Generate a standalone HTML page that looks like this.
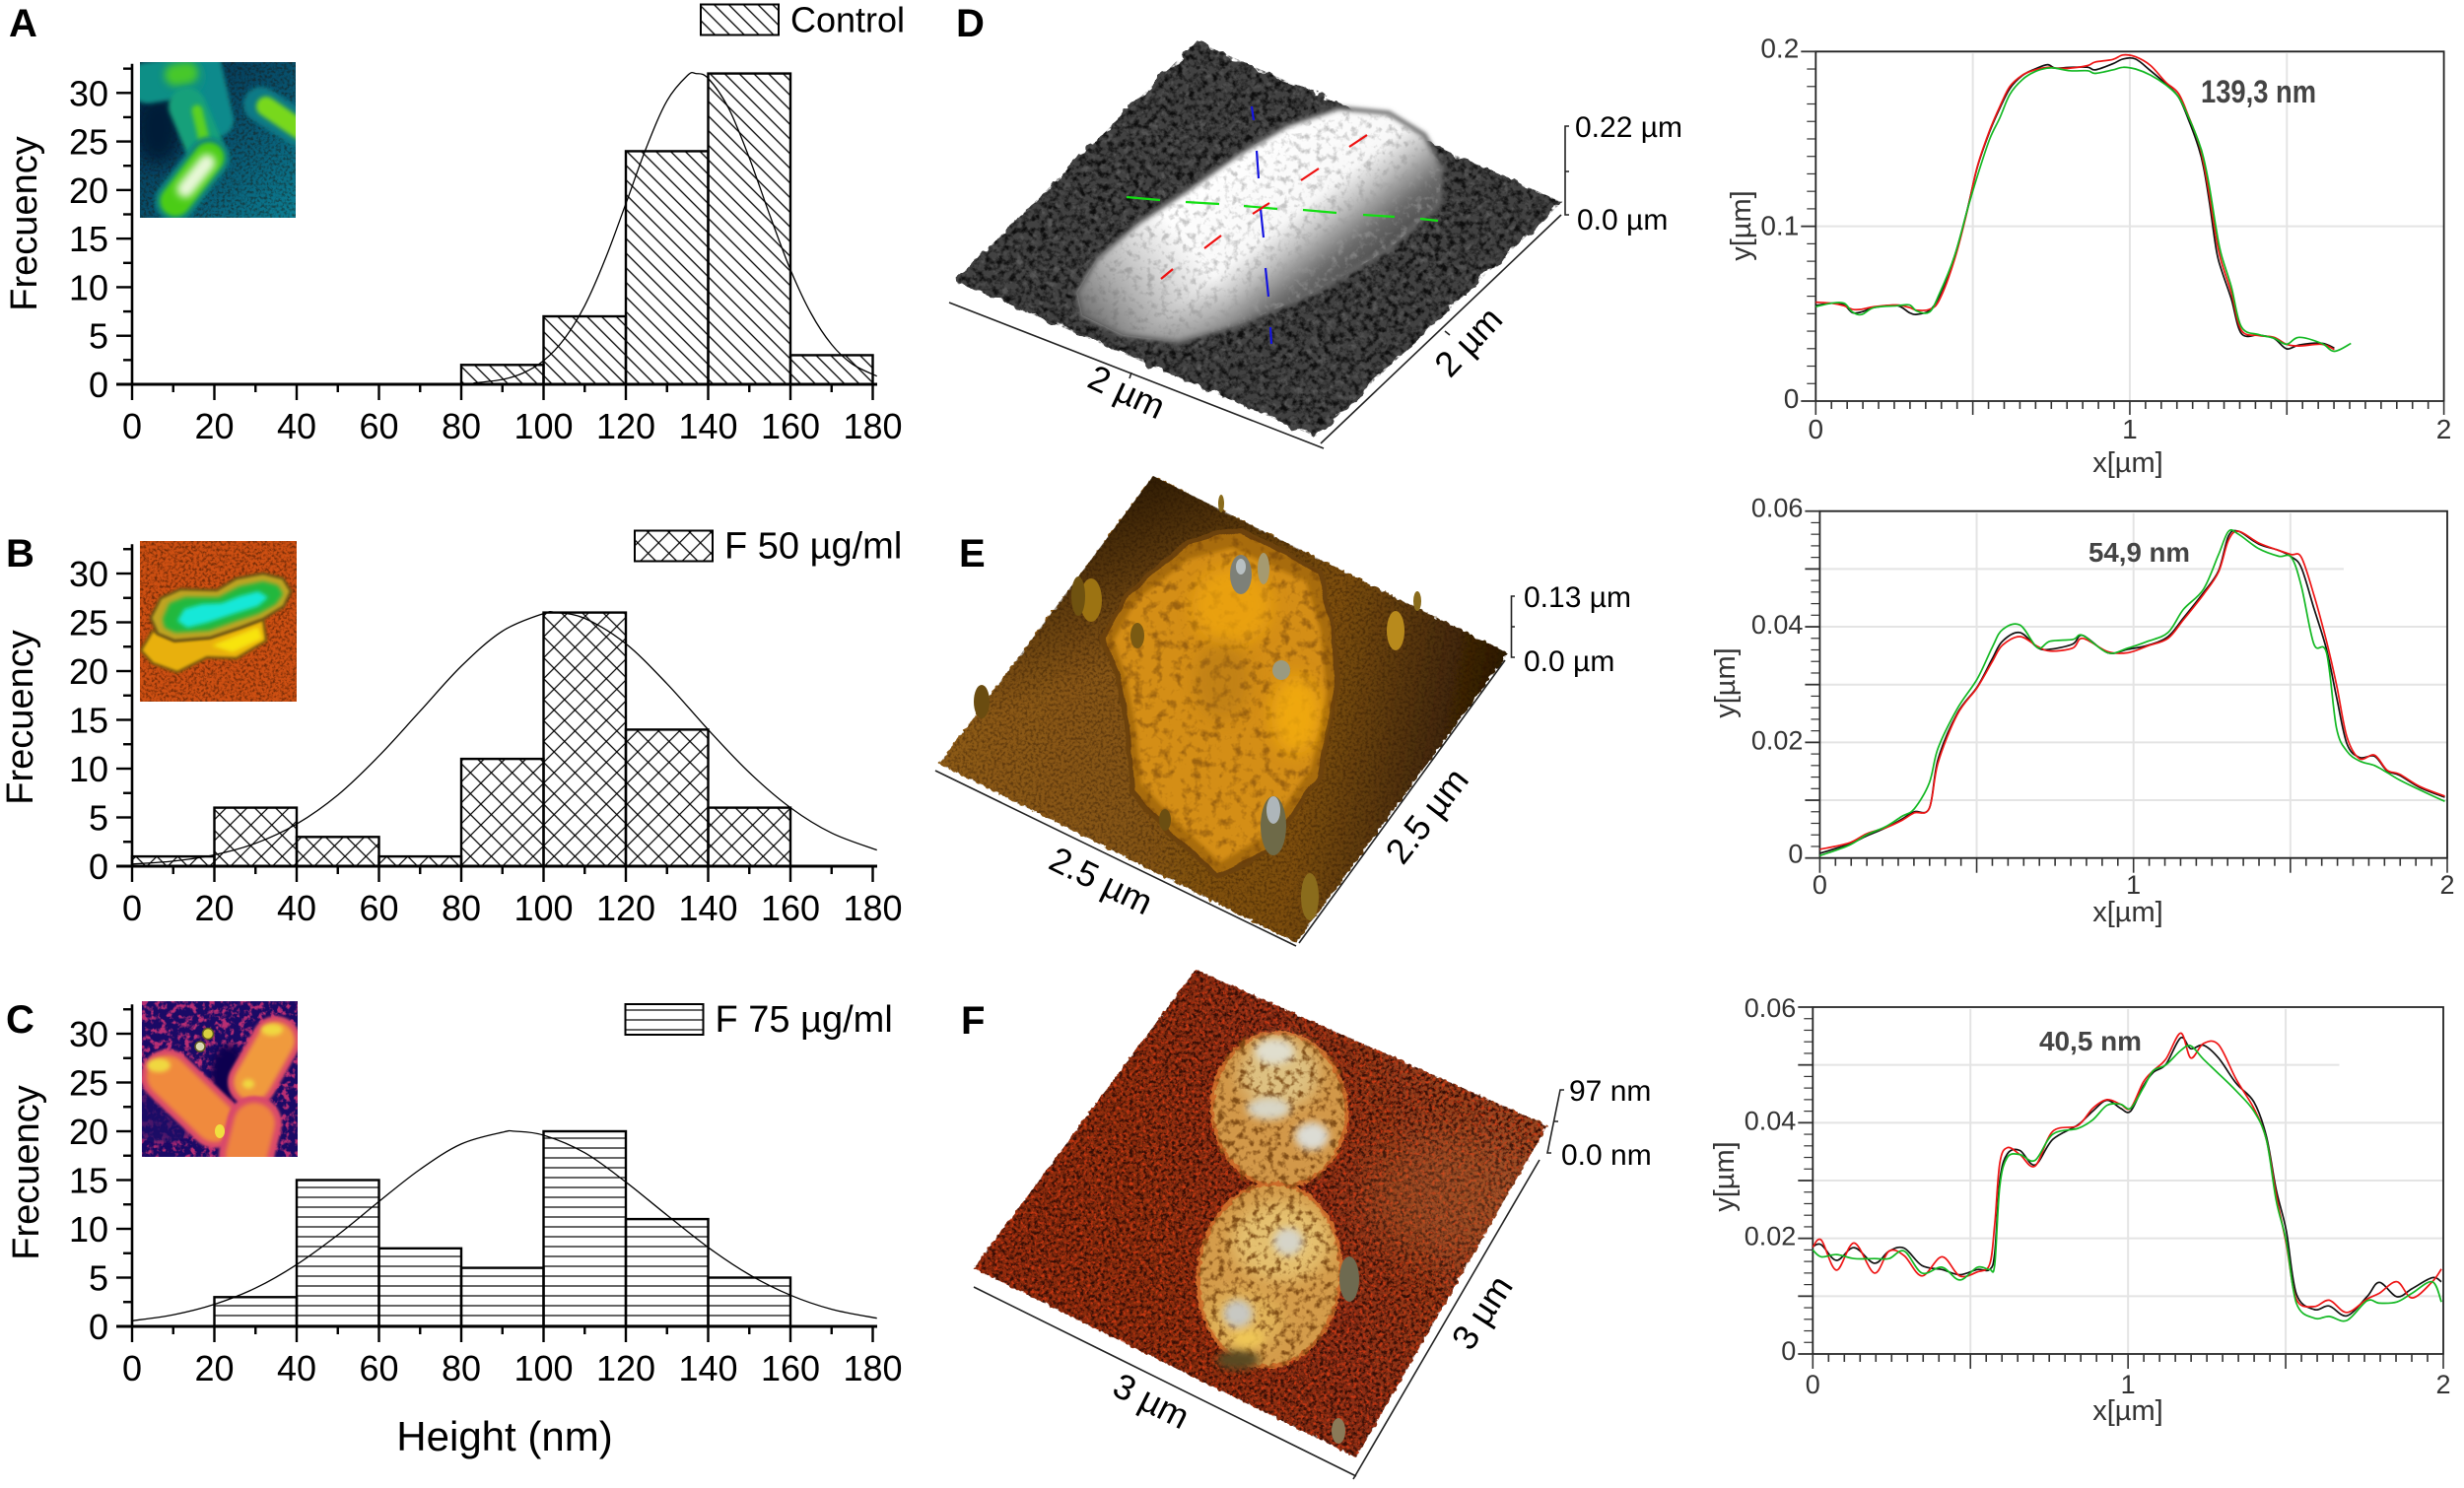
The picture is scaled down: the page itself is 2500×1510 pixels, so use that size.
<!DOCTYPE html>
<html lang="en">
<head>
<meta charset="utf-8">
<title>AFM height histograms, surfaces and profiles</title>
<style>
html,body{margin:0;padding:0;background:#fff;width:2500px;height:1510px;overflow:hidden}
svg{display:block;font-family:"Liberation Sans",Arial,sans-serif}
</style>
</head>
<body>
<svg id="fig" xmlns="http://www.w3.org/2000/svg" width="2500" height="1510" viewBox="0 0 2500 1510">
<defs>
  <pattern id="hatchA" patternUnits="userSpaceOnUse" width="10.5" height="10.5" patternTransform="rotate(-45)"><line x1="5" y1="0" x2="5" y2="10.5" stroke="#000" stroke-width="1.3"/></pattern>
  <pattern id="hatchB" patternUnits="userSpaceOnUse" width="15" height="15" patternTransform="rotate(45)"><path d="M7,0V15M0,7H15" stroke="#000" stroke-width="1.2" fill="none"/></pattern>
  <pattern id="hatchC" patternUnits="userSpaceOnUse" width="10" height="10"><line x1="0" y1="5" x2="10" y2="5" stroke="#000" stroke-width="1.2"/></pattern>

  <filter id="rough" x="-5%" y="-5%" width="110%" height="110%"><feTurbulence type="fractalNoise" baseFrequency=".07" numOctaves="3" seed="4"/><feDisplacementMap in="SourceGraphic" scale="13" xChannelSelector="R" yChannelSelector="G"/></filter>
  <filter id="roughSmall" x="-5%" y="-5%" width="110%" height="110%"><feTurbulence type="fractalNoise" baseFrequency=".04" numOctaves="2" seed="9"/><feDisplacementMap in="SourceGraphic" scale="7" xChannelSelector="R" yChannelSelector="G"/></filter>
  <filter id="roughFine" x="-5%" y="-5%" width="110%" height="110%"><feTurbulence type="fractalNoise" baseFrequency=".2" numOctaves="2" seed="2"/><feDisplacementMap in="SourceGraphic" scale="6" xChannelSelector="R" yChannelSelector="G"/></filter>
  <filter id="blur2" x="-30%" y="-30%" width="160%" height="160%"><feGaussianBlur stdDeviation="2"/></filter>
  <filter id="blur4" x="-60%" y="-60%" width="220%" height="220%"><feGaussianBlur stdDeviation="4"/></filter>
  <filter id="blur8" x="-60%" y="-60%" width="220%" height="220%"><feGaussianBlur stdDeviation="8"/></filter>
  <filter id="insetBlur1" filterUnits="userSpaceOnUse" x="100" y="40" width="240" height="1160"><feGaussianBlur stdDeviation="1.2"/></filter>
  <filter id="insetBlur2" filterUnits="userSpaceOnUse" x="100" y="40" width="240" height="1160"><feGaussianBlur stdDeviation="2"/></filter>
  <filter id="insetBlur4" filterUnits="userSpaceOnUse" x="100" y="40" width="240" height="1160"><feGaussianBlur stdDeviation="4"/></filter>
  <filter id="insetBlur8" filterUnits="userSpaceOnUse" x="100" y="40" width="240" height="1160"><feGaussianBlur stdDeviation="8"/></filter>
  <filter id="patchBlur" filterUnits="userSpaceOnUse" x="1300" y="1050" width="320" height="340"><feGaussianBlur stdDeviation="22"/></filter>

  <filter id="speckDark" x="0" y="0" width="100%" height="100%" color-interpolation-filters="sRGB"><feTurbulence type="fractalNoise" baseFrequency=".16" numOctaves="4" seed="7"/><feColorMatrix values="0 0 0 0 0 0 0 0 0 0 0 0 0 0 0 3 0 0 0 -1.25"/></filter>
  <filter id="speckLight" x="0" y="0" width="100%" height="100%" color-interpolation-filters="sRGB"><feTurbulence type="fractalNoise" baseFrequency=".13" numOctaves="3" seed="11"/><feColorMatrix values="0 0 0 0 .55 0 0 0 0 .55 0 0 0 0 .55 3 0 0 0 -1.55"/></filter>
  <filter id="speckFine" x="0" y="0" width="100%" height="100%" color-interpolation-filters="sRGB"><feTurbulence type="fractalNoise" baseFrequency=".35" numOctaves="3" seed="5"/><feColorMatrix values="0 0 0 0 .12 0 0 0 0 .05 0 0 0 0 0 3 0 0 0 -1.3"/></filter>
  <filter id="speckRedDark" x="0" y="0" width="100%" height="100%" color-interpolation-filters="sRGB"><feTurbulence type="fractalNoise" baseFrequency=".28" numOctaves="3" seed="8"/><feColorMatrix values="0 0 0 0 .2 0 0 0 0 .05 0 0 0 0 .02 3.6 0 0 0 -1.5"/></filter>
  <filter id="speckRedLight" x="0" y="0" width="100%" height="100%" color-interpolation-filters="sRGB"><feTurbulence type="fractalNoise" baseFrequency=".3" numOctaves="3" seed="21"/><feColorMatrix values="0 0 0 0 .88 0 0 0 0 .24 0 0 0 0 .08 3.6 0 0 0 -1.8"/></filter>
  <filter id="speckCream" x="0" y="0" width="100%" height="100%" color-interpolation-filters="sRGB"><feTurbulence type="fractalNoise" baseFrequency=".14" numOctaves="3" seed="14"/><feColorMatrix values="0 0 0 0 .45 0 0 0 0 .25 0 0 0 0 .05 3.6 0 0 0 -1.75"/></filter>
  <filter id="speckOrange" x="0" y="0" width="100%" height="100%" color-interpolation-filters="sRGB"><feTurbulence type="fractalNoise" baseFrequency=".1" numOctaves="3" seed="24"/><feColorMatrix values="0 0 0 0 .4 0 0 0 0 .22 0 0 0 0 .03 3.5 0 0 0 -1.75"/></filter>
  <filter id="speckWhite" x="0" y="0" width="100%" height="100%" color-interpolation-filters="sRGB"><feTurbulence type="fractalNoise" baseFrequency=".14" numOctaves="3" seed="31"/><feColorMatrix values="0 0 0 0 .6 0 0 0 0 .6 0 0 0 0 .6 3.6 0 0 0 -1.8"/></filter>
  <filter id="speckMagenta" x="0" y="0" width="100%" height="100%" color-interpolation-filters="sRGB"><feTurbulence type="fractalNoise" baseFrequency=".16" numOctaves="3" seed="17"/><feColorMatrix values="0 0 0 0 .72 0 0 0 0 .18 0 0 0 0 .45 5 0 0 0 -2.4"/></filter>

  <linearGradient id="gradCellD" gradientUnits="userSpaceOnUse" x1="1235" y1="165" x2="1345" y2="305">
    <stop offset="0" stop-color="#fff"/><stop offset=".5" stop-color="#f8f8f8"/><stop offset=".66" stop-color="#bdbdbd"/><stop offset=".84" stop-color="#6c6c6c"/><stop offset="1" stop-color="#4a4a4a"/>
  </linearGradient>
  <linearGradient id="gradCellDEnd" gradientUnits="userSpaceOnUse" x1="1090" y1="330" x2="1200" y2="240">
    <stop offset="0" stop-color="#555" stop-opacity=".95"/><stop offset="1" stop-color="#888" stop-opacity="0"/>
  </linearGradient>
  <linearGradient id="gradBaseE" gradientUnits="userSpaceOnUse" x1="1000" y1="700" x2="1510" y2="790">
    <stop offset="0" stop-color="#8c5a14"/><stop offset=".65" stop-color="#7c4e10"/><stop offset="1" stop-color="#2a1803"/>
  </linearGradient>
  <linearGradient id="gradTopE" gradientUnits="userSpaceOnUse" x1="1170" y1="490" x2="1230" y2="640">
    <stop offset="0" stop-color="#2f1c04" stop-opacity=".95"/><stop offset="1" stop-color="#2f1c04" stop-opacity="0"/>
  </linearGradient>
  <linearGradient id="gradBaseF" gradientUnits="userSpaceOnUse" x1="1000" y1="1290" x2="1560" y2="1150">
    <stop offset="0" stop-color="#8c2c10"/><stop offset=".6" stop-color="#8a2e12"/><stop offset="1" stop-color="#9a4a24"/>
  </linearGradient>
  <linearGradient id="gradInsetA" gradientUnits="userSpaceOnUse" x1="150" y1="70" x2="300" y2="220">
    <stop offset="0" stop-color="#032a4a"/><stop offset=".5" stop-color="#07506c"/><stop offset="1" stop-color="#0c7f94"/>
  </linearGradient>

  <clipPath id="clipInsetA"><rect x="142" y="63" width="158" height="158"/></clipPath>
  <clipPath id="clipInsetB"><rect x="142" y="549" width="159" height="163"/></clipPath>
  <clipPath id="clipInsetC"><rect x="144" y="1016" width="158" height="158"/></clipPath>
  <clipPath id="clipSurfD"><polygon points="1214,42 1585,205 1335,443 969,285"/></clipPath>
  <clipPath id="clipCellD"><polygon points="1358,110 1409,115 1445,137 1463,170 1460,207 1409,253 1333,297 1256,330 1195,347 1139,340 1098,320 1093,297 1113,263 1154,227 1205,193 1256,157 1307,127"/></clipPath>
  <clipPath id="clipSurfE"><polygon points="1170,483 1530,663 1315,957 953,775"/></clipPath>
  <clipPath id="clipCellE"><polygon points="1257,537 1338,580 1353,637 1356,703 1338,787 1287,863 1236,890 1185,843 1149,803 1144,737 1134,687 1119,647 1144,603 1205,550"/></clipPath>
  <clipPath id="clipSurfF"><polygon points="1213,984 1570,1142 1376,1479 988,1287"/></clipPath>
  <clipPath id="clipCellF"><path d="M1231,1126a68,76 0 1,1 135,0a68,76 0 1,1 -135,0zM1215,1294a72,93 0 1,1 146,0a72,93 0 1,1 -146,0z"/></clipPath>
</defs>

<!-- Panel D surface -->
<g>
  <g filter="url(#rough)">
    <polygon points="1214,42 1585,205 1335,443 969,285" fill="#434343"/>
  </g>
  <g clip-path="url(#clipSurfD)">
    <rect x="960" y="35" width="630" height="415" filter="url(#speckDark)" opacity=".8"/>
    <rect x="960" y="35" width="630" height="415" filter="url(#speckLight)" opacity=".35"/>
  </g>
  <polygon points="1358,110 1409,115 1445,137 1463,170 1460,207 1409,253 1333,297 1256,330 1195,347 1139,340 1098,320 1093,297 1113,263 1154,227 1205,193 1256,157 1307,127" fill="url(#gradCellD)" stroke="#666" stroke-width="5" stroke-linejoin="round" filter="url(#blur2)"/>
  <g clip-path="url(#clipCellD)">
    <rect x="1090" y="108" width="380" height="242" filter="url(#speckWhite)" opacity=".55"/>
    <rect x="1090" y="108" width="380" height="242" fill="url(#gradCellDEnd)"/>
  </g>
  <g stroke="#12e012" stroke-width="2.2">
    <line x1="1143" y1="200" x2="1177" y2="203"/><line x1="1203" y1="205" x2="1237" y2="207"/><line x1="1262" y1="209" x2="1296" y2="212"/><line x1="1322" y1="213" x2="1356" y2="216"/><line x1="1383" y1="218" x2="1415" y2="220"/><line x1="1441" y1="222" x2="1459" y2="224"/>
  </g>
  <g stroke="#1414e0" stroke-width="2.2">
    <line x1="1270" y1="108" x2="1272" y2="122"/><line x1="1275" y1="153" x2="1277" y2="181"/><line x1="1279" y1="212" x2="1282" y2="241"/><line x1="1284" y1="272" x2="1287" y2="301"/><line x1="1289" y1="332" x2="1290" y2="349"/>
  </g>
  <g stroke="#ee1010" stroke-width="2.2">
    <line x1="1369" y1="149" x2="1387" y2="137"/><line x1="1320" y1="183" x2="1338" y2="171"/><line x1="1271" y1="217" x2="1288" y2="206"/><line x1="1222" y1="252" x2="1239" y2="239"/><line x1="1178" y1="283" x2="1190" y2="273"/>
  </g>
  <g stroke="#222" stroke-width="1.6" fill="none">
    <line x1="963" y1="307" x2="1343" y2="455"/><line x1="1584" y1="218" x2="1340" y2="450"/>
    <path d="M1592,128H1588V218H1592M1588,174H1592"/>
    <line x1="1148" y1="378" x2="1146" y2="384"/><line x1="1466" y1="336" x2="1471" y2="340"/>
  </g>
  <text x="1598" y="139" font-size="30">0.22 µm</text>
  <text x="1600" y="233" font-size="30">0.0 µm</text>
  <text transform="rotate(25 1143 398)" x="1143" y="410" font-size="36" text-anchor="middle">2 µm</text>
  <text transform="rotate(-47 1490 347)" x="1490" y="359" font-size="36" text-anchor="middle">2 µm</text>
</g>

<!-- Panel E surface -->
<g>
  <g filter="url(#roughFine)"><polygon points="1170,483 1530,663 1315,957 953,775" fill="url(#gradBaseE)"/></g>
  <g clip-path="url(#clipSurfE)">
    <rect x="950" y="480" width="585" height="480" fill="url(#gradTopE)"/>
    <rect x="950" y="480" width="585" height="480" filter="url(#speckFine)" opacity=".4"/>
  </g>
  <polygon points="1257,537 1338,580 1353,637 1356,703 1338,787 1287,863 1236,890 1185,843 1149,803 1144,737 1134,687 1119,647 1144,603 1205,550" fill="#a86c10" stroke="#6c420a" stroke-width="5" stroke-linejoin="round" filter="url(#roughSmall)"/>
  <polygon points="1250,556 1325,590 1340,640 1346,703 1330,780 1280,850 1238,875 1195,835 1158,795 1152,735 1142,685 1130,650 1152,610 1205,568" fill="#d48e12" filter="url(#blur2)"/>
  <g clip-path="url(#clipCellE)">
    <rect x="1115" y="530" width="245" height="365" filter="url(#speckOrange)" opacity=".5"/>
    <ellipse cx="1250" cy="615" rx="40" ry="40" fill="#f2a90e" opacity=".7" filter="url(#blur8)"/>
    <ellipse cx="1315" cy="725" rx="25" ry="40" fill="#f5ae08" opacity=".8" filter="url(#blur8)"/>
    <ellipse cx="1240" cy="690" rx="28" ry="40" fill="#a06a12" opacity=".35" filter="url(#blur8)"/>
  </g>
  <g>
    <ellipse cx="1259" cy="583" rx="11" ry="20" fill="#7d8078"/><ellipse cx="1259" cy="575" rx="5" ry="8" fill="#b8c0c2"/>
    <ellipse cx="1282" cy="577" rx="6" ry="16" fill="#a59a70"/>
    <ellipse cx="1292" cy="838" rx="13" ry="30" fill="#6e6a48"/><ellipse cx="1292" cy="822" rx="7" ry="14" fill="#aeb6ba"/>
    <ellipse cx="1107" cy="609" rx="11" ry="22" fill="#9c7312"/><ellipse cx="1094" cy="605" rx="7" ry="20" fill="#6f5210"/>
    <ellipse cx="996" cy="712" rx="8" ry="17" fill="#6a4c10"/>
    <ellipse cx="1416" cy="640" rx="9" ry="20" fill="#b88a1c"/>
    <ellipse cx="1329" cy="910" rx="9" ry="24" fill="#8a6c1c"/>
    <ellipse cx="1300" cy="680" rx="9" ry="10" fill="#9a9a80"/>
    <ellipse cx="1239" cy="511" rx="3" ry="9" fill="#8a6c1c"/>
    <ellipse cx="1438" cy="610" rx="4" ry="10" fill="#8a6c1c"/>
    <ellipse cx="1182" cy="832" rx="6" ry="11" fill="#6b4e12"/>
    <ellipse cx="1154" cy="645" rx="7" ry="13" fill="#7a5a12"/>
  </g>
  <g stroke="#222" stroke-width="1.6" fill="none">
    <line x1="949" y1="782" x2="1315" y2="960"/><line x1="1527" y1="670" x2="1318" y2="957"/>
    <path d="M1537,605H1533.500V667H1537M1533.500,636H1537"/>
  </g>
  <text x="1546" y="616" font-size="30">0.13 µm</text>
  <text x="1546" y="681" font-size="30">0.0 µm</text>
  <text transform="rotate(26 1117 894)" x="1117" y="906" font-size="36" text-anchor="middle">2.5 µm</text>
  <text transform="rotate(-52 1448 828)" x="1448" y="840" font-size="36" text-anchor="middle">2.5 µm</text>
</g>

<!-- Panel F surface -->
<g>
  <g filter="url(#roughFine)"><polygon points="1213,984 1570,1142 1376,1479 988,1287" fill="url(#gradBaseF)"/></g>
  <g clip-path="url(#clipSurfF)">
    <rect x="985" y="980" width="590" height="505" filter="url(#speckRedDark)"/>
    <rect x="985" y="980" width="590" height="505" filter="url(#speckRedLight)" opacity=".8"/>
    <ellipse cx="1470" cy="1215" rx="85" ry="65" fill="#b0703a" opacity=".3" filter="url(#patchBlur)"/>
  </g>
  <g filter="url(#roughFine)">
    <ellipse cx="1298" cy="1126" rx="68" ry="78" fill="#d2984a" stroke="#cc6c2a" stroke-width="4" transform="rotate(-6 1298 1126)"/>
    <ellipse cx="1288" cy="1294" rx="72" ry="93" fill="#d49c4c" stroke="#cc6c2a" stroke-width="4" transform="rotate(6 1288 1294)"/>
  </g>
  <g clip-path="url(#clipCellF)">
    <ellipse cx="1298" cy="1090" rx="40" ry="35" fill="#e2d29a" opacity=".7" filter="url(#blur8)"/>
    <ellipse cx="1300" cy="1260" rx="50" ry="40" fill="#ecd080" opacity=".7" filter="url(#blur8)"/>
    <ellipse cx="1262" cy="1340" rx="40" ry="30" fill="#e6be60" opacity=".7" filter="url(#blur8)"/>
    <rect x="1210" y="1048" width="160" height="340" filter="url(#speckCream)" opacity=".85"/>
  </g>
  <g filter="url(#blur4)">
    <ellipse cx="1293" cy="1067" rx="20" ry="13" fill="#e0dece"/>
    <ellipse cx="1287" cy="1125" rx="22" ry="11" fill="#d8d6c6"/>
    <ellipse cx="1331" cy="1153" rx="17" ry="14" fill="#dcdcd4"/>
    <ellipse cx="1307" cy="1260" rx="15" ry="14" fill="#d6d4c8"/>
    <ellipse cx="1256" cy="1333" rx="15" ry="14" fill="#c8c8c2"/>
    <ellipse cx="1266" cy="1358" rx="16" ry="9" fill="#efc656"/>
    <ellipse cx="1256" cy="1380" rx="22" ry="10" fill="#5a4a22"/>
  </g>
  <ellipse cx="1369" cy="1298" rx="10" ry="23" fill="#6e6a50"/>
  <ellipse cx="1358" cy="1452" rx="7" ry="13" fill="#8a7a58"/>
  <g stroke="#222" stroke-width="1.6" fill="none">
    <line x1="988" y1="1306" x2="1376" y2="1498"/><line x1="1562" y1="1177" x2="1373" y2="1501"/>
    <path d="M1587,1106H1583L1570,1170H1574M1577,1138H1581"/>
  </g>
  <text x="1592" y="1117" font-size="30">97 nm</text>
  <text x="1584" y="1182" font-size="30">0.0 nm</text>
  <text transform="rotate(27 1168 1422)" x="1168" y="1434" font-size="36" text-anchor="middle">3 µm</text>
  <text transform="rotate(-57 1504 1332)" x="1504" y="1344" font-size="36" text-anchor="middle">3 µm</text>
</g>

<!-- Panel letters -->
<g font-weight="bold" font-size="40">
  <text x="9" y="37">A</text>
  <text x="6" y="575">B</text>
  <text x="6" y="1048">C</text>
  <text x="970" y="37">D</text>
  <text x="973" y="575">E</text>
  <text x="975" y="1049">F</text>
</g>

<g id="histograms"></g>

<!-- Insets -->
<g clip-path="url(#clipInsetA)">
  <rect x="142" y="63" width="158" height="158" fill="url(#gradInsetA)"/>
  <rect x="142" y="63" width="158" height="158" filter="url(#speckFine)" opacity=".45"/>
  <g fill="none" stroke-linecap="round">
    <ellipse cx="160" cy="130" rx="24" ry="36" fill="#021c38" filter="url(#insetBlur8)"/>
    <line x1="205" y1="55" x2="220" y2="122" stroke="#0e8a8c" stroke-width="34" filter="url(#insetBlur2)"/>
    <line x1="150" y1="84" x2="188" y2="78" stroke="#0e8f86" stroke-width="42" filter="url(#insetBlur2)"/>
    <line x1="178" y1="76" x2="190" y2="74" stroke="#46c82a" stroke-width="22" filter="url(#insetBlur4)"/>
    <line x1="190" y1="108" x2="207" y2="148" stroke="#12a07a" stroke-width="38" filter="url(#insetBlur2)"/>
    <line x1="200" y1="112" x2="209" y2="150" stroke="#5cd020" stroke-width="11" filter="url(#insetBlur2)"/>
    <line x1="212" y1="160" x2="178" y2="204" stroke="#0d8480" stroke-width="42" filter="url(#insetBlur2)"/>
    <line x1="212" y1="160" x2="178" y2="204" stroke="#4ccc18" stroke-width="31" filter="url(#insetBlur2)"/>
    <line x1="210" y1="165" x2="188" y2="192" stroke="#e8f8d8" stroke-width="17" filter="url(#insetBlur4)"/>
    <line x1="265" y1="106" x2="305" y2="132" stroke="#0b7a86" stroke-width="36" filter="url(#insetBlur2)"/>
    <line x1="270" y1="108" x2="305" y2="132" stroke="#78d81c" stroke-width="20" filter="url(#insetBlur2)"/>
  </g>
</g>
<g clip-path="url(#clipInsetB)">
  <rect x="142" y="549" width="159" height="163" fill="#cd4f12"/>
  <rect x="142" y="549" width="159" height="163" filter="url(#speckFine)" opacity=".5"/>
  <polygon points="143,660 155,640 177,650 213,647 243,637 267,628 270,650 240,668 210,667 180,682 155,673" fill="#e8b010" stroke="#7c5a10" stroke-width="3" stroke-linejoin="round" filter="url(#insetBlur1)"/>
  <polygon points="215,655 262,636 266,648 236,662" fill="#f8e410" filter="url(#insetBlur2)"/>
  <polygon points="153,627 163,607 183,598 220,599 240,587 267,582 287,587 295,600 288,615 267,628 243,637 213,647 177,650 160,643" fill="#c0a420" stroke="#6c5412" stroke-width="3" stroke-linejoin="round" filter="url(#insetBlur1)"/>
  <polygon points="165,628 172,612 188,606 222,606 243,595 267,590 282,594 287,603 280,613 262,623 240,630 212,640 178,642 167,637" fill="#22b83c" filter="url(#insetBlur2)"/>
  <polygon points="180,630 187,618 205,613 225,612 243,605 262,600 272,606 262,615 240,622 210,632 190,637" fill="#12e8d8" filter="url(#insetBlur2)"/>
</g>
<g clip-path="url(#clipInsetC)">
  <rect x="144" y="1016" width="158" height="158" fill="#1a0a66"/>
  <rect x="144" y="1016" width="158" height="158" filter="url(#speckMagenta)"/>
  <g fill="none" stroke-linecap="round">
    <ellipse cx="165" cy="1130" rx="40" ry="30" fill="#1a0a66" opacity=".7" filter="url(#insetBlur4)"/>
    <ellipse cx="232" cy="1090" rx="18" ry="30" fill="#100650" filter="url(#insetBlur4)"/>
    <line x1="170" y1="1092" x2="218" y2="1138" stroke="#d9486a" stroke-width="54" filter="url(#insetBlur1)"/>
    <line x1="170" y1="1092" x2="218" y2="1138" stroke="#f08a3e" stroke-width="42" filter="url(#insetBlur2)"/>
    <line x1="280" y1="1056" x2="256" y2="1098" stroke="#d9486a" stroke-width="50" filter="url(#insetBlur1)"/>
    <line x1="280" y1="1056" x2="256" y2="1098" stroke="#f09a3c" stroke-width="38" filter="url(#insetBlur2)"/>
    <line x1="258" y1="1140" x2="250" y2="1172" stroke="#d9486a" stroke-width="56" filter="url(#insetBlur1)"/>
    <line x1="258" y1="1140" x2="250" y2="1172" stroke="#ee8440" stroke-width="42" filter="url(#insetBlur2)"/>
  </g>
  <ellipse cx="161" cy="1081" rx="12" ry="7" fill="#f0d840" filter="url(#insetBlur2)"/>
  <ellipse cx="276" cy="1045" rx="11" ry="6" fill="#f0d840" filter="url(#insetBlur2)"/>
  <ellipse cx="223" cy="1148" rx="5" ry="7" fill="#f0e040"/>
  <ellipse cx="252" cy="1100" rx="6" ry="5" fill="#f0d840" filter="url(#insetBlur2)"/>
  <circle cx="211" cy="1049" r="5.500" fill="#d8d040" stroke="#605a20" stroke-width="1.500"/>
  <circle cx="203" cy="1062" r="5" fill="#d8d8b0" stroke="#605a20" stroke-width="1.500"/>
</g>

<g id="profiles"></g>

<script>
// ---------- Histogram data ----------
const histTickX = [0, 20, 40, 60, 80, 100, 120, 140, 160, 180];
const histTickY = [0, 5, 10, 15, 20, 25, 30];

const binStartA = [80, 100, 120, 140, 160];
const countA = [2, 7, 24, 32, 3];
const fitXA = [83, 90, 95, 100, 105, 110, 115, 120, 125, 130, 135, 137, 140, 145, 150, 155, 160, 165, 170, 175, 181];
const fitYA = [0.13, 0.5, 1.16, 2.43, 4.66, 8.1, 12.9, 18.6, 24.4, 29.2, 31.8, 32, 31.5, 28.4, 23.3, 17.4, 11.8, 7.3, 4.1, 2.1, 0.84];

const binStartB = [0, 20, 40, 60, 80, 100, 120, 140];
const countB = [1, 6, 3, 1, 11, 26, 14, 6];
const fitXB = [0, 10, 20, 30, 40, 50, 60, 70, 80, 90, 100, 103, 110, 120, 130, 140, 150, 160, 170, 181];
const fitYB = [0.21, 0.52, 1.16, 2.34, 4.32, 7.3, 11.3, 15.9, 20.5, 24.1, 25.9, 26, 25.4, 22.8, 18.7, 14, 9.6, 6, 3.4, 1.66];

const binStartC = [20, 40, 60, 80, 100, 120, 140];
const countC = [3, 15, 8, 6, 20, 11, 5];
const fitXC = [0, 10, 20, 30, 40, 50, 60, 70, 80, 90, 93, 100, 110, 120, 130, 140, 150, 160, 170, 181];
const fitYC = [0.58, 1.19, 2.26, 3.93, 6.33, 9.38, 12.8, 16.1, 18.7, 19.9, 20, 19.6, 17.8, 14.8, 11.4, 8.1, 5.3, 3.2, 1.76, 0.84];

// ---------- Profile data ----------
const profileTickX = [0, 1, 2];
const yTicksD = [0, 0.1, 0.2];
const yTicksEF = [0, 0.02, 0.04, 0.06];
const yTickTextD = ['0', '0.1', '0.2'];
const yTickTextEF = ['0', '0.02', '0.04', '0.06'];
const gridYD = [0.1];
const gridYEF = [0.01, 0.02, 0.03, 0.04, 0.05];

const xD = [0, .05, .09, .117, .146, .186, .258, .298, .322, .362, .394, .442, .482, .514, .554, .586, .618, .658, .698, .738, .762, .81, .866, .89, .946, .978, 1.018, 1.066, 1.114, 1.155, 1.187, 1.219, 1.235, 1.254, 1.275, 1.291, 1.323, 1.355, 1.411, 1.459, 1.499, 1.539, 1.611, 1.651, 1.704];
const blackD = [.0547, .056, .055, .0506, .051, .0535, .0547, .0506, .0496, .0519, .0603, .0829, .1092, .1336, .1543, .1675, .1788, .1863, .19, .1925, .1905, .191, .191, .1895, .193, .1957, .1957, .189, .1816, .174, .161, .145, .1336, .113, .0867, .0754, .0585, .0387, .0378, .0359, .0299, .0321, .0331, .0303];
const redD = [.0566, .056, .0545, .0525, .0525, .054, .055, .0535, .052, .0525, .058, .081, .1085, .134, .155, .1685, .18, .1865, .1895, .191, .1905, .1905, .192, .194, .1955, .198, .197, .192, .1825, .176, .163, .148, .136, .117, .093, .08, .062, .0405, .0375, .0365, .0325, .0315, .0325, .0295];
const greenD = [.054, .056, .056, .051, .0495, .0535, .0545, .055, .0515, .051, .0615, .083, .109, .1285, .15, .162, .1755, .184, .1885, .1905, .1905, .189, .189, .1875, .1895, .191, .19, .1865, .181, .174, .1625, .1485, .139, .122, .0985, .084, .0655, .0425, .038, .036, .0325, .0365, .033, .0285, .033];

const xE = [0, .093, .149, .213, .261, .301, .349, .377, .438, .502, .55, .582, .638, .694, .734, .806, .838, .918, .982, 1.046, 1.11, 1.159, 1.223, 1.271, 1.303, 1.335, 1.399, 1.463, 1.503, 1.535, 1.575, 1.615, 1.647, 1.68, 1.72, 1.768, 1.808, 1.848, 1.912, 1.992];
const blackE = [.0008, .0024, .0038, .0053, .0067, .008, .0086, .0171, .025, .0296, .0345, .0375, .039, .0364, .0361, .037, .0385, .0355, .0361, .0368, .0383, .0415, .0459, .0497, .0557, .0565, .0543, .0532, .0521, .0502, .0432, .0361, .0279, .0198, .0174, .0176, .0151, .0143, .0122, .0105];
const redE = [.0015, .0026, .0042, .0053, .0065, .0078, .0086, .0165, .0248, .0295, .034, .0368, .0383, .0366, .0358, .0363, .038, .0357, .0355, .0367, .038, .0412, .0456, .0495, .055, .0565, .0545, .0532, .0525, .052, .0455, .0375, .03, .021, .0172, .0178, .0152, .0145, .0124, .0107];
const greenE = [.0004, .0022, .004, .0055, .0072, .0085, .013, .019, .0258, .031, .0365, .0395, .0403, .0364, .0375, .0378, .0385, .0355, .0363, .0375, .039, .043, .0465, .0525, .0565, .056, .0535, .0522, .052, .047, .037, .0355, .0225, .0185, .0168, .016, .0148, .0135, .0118, .0098];

const xF = [0, .027, .075, .131, .195, .242, .29, .346, .41, .466, .522, .561, .577, .593, .617, .657, .705, .761, .84, .888, .933, .976, 1.008, 1.048, 1.08, 1.12, 1.167, 1.199, 1.239, 1.287, 1.343, 1.399, 1.439, 1.47, 1.502, 1.534, 1.59, 1.638, 1.694, 1.758, 1.797, 1.853, 1.901, 1.965, 1.994];
const blackF = [.0186, .0189, .0162, .0184, .0157, .0178, .0183, .0153, .0146, .0137, .0146, .0146, .0175, .03, .0346, .0352, .0327, .0371, .0396, .042, .0439, .0425, .042, .0463, .0487, .0501, .0547, .0528, .0534, .0512, .0468, .0436, .0376, .0284, .0213, .0104, .0077, .0083, .0066, .0099, .0124, .0099, .0113, .0132, .0125];
const redF = [.0185, .0197, .0145, .0192, .014, .0178, .017, .0135, .0168, .0135, .0142, .0155, .0225, .033, .0357, .0345, .0325, .0385, .0395, .0425, .044, .0432, .0425, .047, .049, .051, .0555, .0512, .0537, .0535, .0475, .0425, .037, .0275, .019, .0095, .0082, .0093, .0072, .0095, .0105, .0125, .0097, .0125, .0147];
const greenF = [.018, .0168, .0172, .0165, .0165, .0165, .0178, .014, .015, .0128, .015, .0146, .0155, .029, .034, .0345, .0335, .038, .039, .0405, .043, .0432, .0425, .046, .049, .05, .0525, .0533, .051, .0485, .0455, .042, .037, .0265, .0195, .0088, .0062, .0065, .0058, .0092, .0088, .009, .0105, .0125, .009];

const NS = 'http://www.w3.org/2000/svg';
function mk(tag, attrs, parent, txt) {
  const el = document.createElementNS(NS, tag);
  for (const k in attrs) el.setAttribute(k, attrs[k]);
  if (txt !== undefined) el.textContent = txt;
  parent.appendChild(el);
  return el;
}
// Smooth curve through screen points (Catmull-Rom to Bezier)
function smoothPath(pts) {
  let d = 'M' + pts[0][0].toFixed(1) + ',' + pts[0][1].toFixed(1);
  for (let i = 0; i < pts.length - 1; i++) {
    const p0 = pts[i - 1] || pts[i], p1 = pts[i], p2 = pts[i + 1], p3 = pts[i + 2] || p2;
    const c1x = p1[0] + (p2[0] - p0[0]) / 6, c1y = p1[1] + (p2[1] - p0[1]) / 6;
    const c2x = p2[0] - (p3[0] - p1[0]) / 6, c2y = p2[1] - (p3[1] - p1[1]) / 6;
    d += ' C' + c1x.toFixed(1) + ',' + c1y.toFixed(1) + ' ' + c2x.toFixed(1) + ',' + c2y.toFixed(1) + ' ' + p2[0].toFixed(1) + ',' + p2[1].toFixed(1);
  }
  return d;
}

// ---------- Histograms ----------
const histX = v => 134 + v * (751.5 / 180);
const binWidth = 20;
const histRoot = document.getElementById('histograms');

function drawHistogram(p) {
  const histY = v => p.y0 - v * p.unit;
  const g = mk('g', {}, histRoot);
  
  

  p.starts.forEach((s, i) => {
    const bar = mk('rect', {x: histX(s), y: histY(p.counts[i]), width: histX(s + binWidth) - histX(s), height: histY(0) - histY(p.counts[i]), fill: 'url(#' + p.pattern + ')', stroke: '#000', 'stroke-width': 2.4}, g);
    
    
  });

  const d = smoothPath(p.fitX.map((x, i) => [histX(x), histY(p.fitY[i])]));
  const fit = mk('path', {d: d, fill: 'none', stroke: '#000', 'stroke-width': 1.3, 'stroke-linejoin': 'round'}, g);
  
  

  const xAxis = mk('line', {x1: 118, x2: 890, y1: p.y0, y2: p.y0, stroke: '#000', 'stroke-width': 3}, g);
  
  
  const yAxis = mk('line', {x1: 134, x2: 134, y1: p.y0, y2: p.y0 - 33 * p.unit, stroke: '#000', 'stroke-width': 2.6}, g);
  
  

  histTickX.forEach(v => {
    mk('line', {x1: histX(v), x2: histX(v), y1: p.y0, y2: p.y0 + 16, stroke: '#000', 'stroke-width': 2.4}, g);
    if (v < histTickX[histTickX.length - 1]) mk('line', {x1: histX(v + 10), x2: histX(v + 10), y1: p.y0, y2: p.y0 + 8, stroke: '#000', 'stroke-width': 2.4}, g);
    const t = mk('text', {x: histX(v), y: p.y0 + 55, 'font-size': 36, 'text-anchor': 'middle'}, g, String(v));
    
    
  });
  histTickY.forEach(v => {
    mk('line', {x1: 118, x2: 134, y1: histY(v), y2: histY(v), stroke: '#000', 'stroke-width': 2.4}, g);
    mk('line', {x1: 125, x2: 134, y1: histY(v + 2.5), y2: histY(v + 2.5), stroke: '#000', 'stroke-width': 2.4}, g);
    const t = mk('text', {x: 110, y: histY(v) + 13, 'font-size': 36, 'text-anchor': 'end'}, g, String(v));
    
    
  });

  const yl = mk('text', {x: p.labelX, y: p.labelY, 'font-size': 38, 'text-anchor': 'middle', transform: 'rotate(-90 ' + p.labelX + ' ' + p.labelY + ')'}, g, 'Frecuency');
  
  

  const sw = mk('rect', {x: p.swX, y: p.swY, width: 79, height: 31, fill: 'url(#' + p.pattern + ')', stroke: '#000', 'stroke-width': 2}, g);
  
  
  const lt = mk('text', {x: p.swX + 91, y: p.swY + 28, 'font-size': p.legendFs}, g, p.legend);
  
  
}

drawHistogram({id: 'a', y0: 390, unit: 9.857, starts: binStartA, counts: countA, fitX: fitXA, fitY: fitYA, pattern: 'hatchA', labelX: 37, labelY: 227, swX: 711, swY: 4.5, legend: 'Control', legendFs: 36});
drawHistogram({id: 'b', y0: 879, unit: 9.9, starts: binStartB, counts: countB, fitX: fitXB, fitY: fitYB, pattern: 'hatchB', labelX: 33, labelY: 728, swX: 644, swY: 538.5, legend: 'F 50 µg/ml', legendFs: 38});
drawHistogram({id: 'c', y0: 1346, unit: 9.9, starts: binStartC, counts: countC, fitX: fitXC, fitY: fitYC, pattern: 'hatchC', labelX: 39, labelY: 1190, swX: 634.5, swY: 1019, legend: 'F 75 µg/ml', legendFs: 38});

const xTitle = mk('text', {x: 512, y: 1472, 'font-size': 42, 'text-anchor': 'middle'}, histRoot, 'Height (nm)');



// ---------- Profiles ----------
const profRoot = document.getElementById('profiles');
const xRangeMax = 2;

function drawProfile(p) {
  const px = v => p.left + v / xRangeMax * (p.right - p.left);
  const py = v => p.bottom - v / p.yMax * (p.bottom - p.top);
  const g = mk('g', {}, profRoot);
  
  

  [0.5, 1, 1.5].forEach(v => mk('line', {x1: px(v), x2: px(v), y1: p.top + 2, y2: p.bottom, stroke: '#e4e4e4', 'stroke-width': 2}, g));
  p.gridY.forEach((v, i) => {
    const end = (i === p.gridY.length - 1 && p.id !== 'd') ? p.left + (p.right - p.left) * 0.835 : p.right;
    mk('line', {x1: p.left, x2: end, y1: py(v), y2: py(v), stroke: '#e4e4e4', 'stroke-width': 2}, g);
  });

  const fr = mk('path', {d: `M${p.left},${p.bottom}V${p.top}H${p.right}V${p.bottom}Z`, fill: 'none', stroke: '#222', 'stroke-width': 1.8}, g);
  
  

  for (let i = 0; i <= 40; i++) {
    const v = i * 0.05;
    const tickLen = i % 10 === 0 ? p.majorX : p.minorX;
    mk('line', {x1: px(v), x2: px(v), y1: p.bottom, y2: p.bottom + tickLen, stroke: '#333', 'stroke-width': 1.6}, g);
  }
  const yStepCount = Math.round(p.yMax / p.yMinor);
  for (let i = 0; i <= yStepCount; i++) {
    const v = i * p.yMinor;
    const isMajor = Math.abs(v / p.yMajorStep - Math.round(v / p.yMajorStep)) < 1e-6;
    mk('line', {x1: p.left - (isMajor ? 15 : 9), x2: p.left, y1: py(v), y2: py(v), stroke: '#333', 'stroke-width': isMajor ? 1.8 : 1.2}, g);
  }

  p.tickY.forEach((v, i) => {
    const t = mk('text', {x: p.left - 17, y: py(v) + p.labelShift[i], 'font-size': p.fs, 'text-anchor': 'end', fill: '#333'}, g, p.tickText[i]);
    
    
  });
  profileTickX.forEach(v => {
    const t = mk('text', {x: px(v), y: p.xTickY, 'font-size': p.fs, 'text-anchor': 'middle', fill: '#333'}, g, String(v));
    
    
  });

  const xl = mk('text', {x: 2159, y: p.xTitleY, 'font-size': 29, 'text-anchor': 'middle', fill: '#333'}, g, 'x[µm]');
  
  
  const yl = mk('text', {x: p.yTitleX, y: p.yTitleY, 'font-size': 29, 'text-anchor': 'middle', fill: '#333', transform: `rotate(-90 ${p.yTitleX} ${p.yTitleY})`}, g, 'y[µm]');
  
  

  [['black', p.black, '#111'], ['red', p.red, '#ee1414'], ['green', p.green, '#12b822']].forEach(s => {
    const d = smoothPath(s[1].map((v, i) => [px(p.xs[i]), py(v)]));
    const line = mk('path', {d: d, fill: 'none', stroke: s[2], 'stroke-width': 1.7, 'stroke-linejoin': 'round'}, g);
    
    
  });

  const note = mk('text', {x: p.noteX, y: p.noteY, 'font-size': p.noteFs, 'font-weight': 'bold', fill: '#444', textLength: p.noteLen, lengthAdjust: 'spacingAndGlyphs'}, g, p.note);
  
  
}

drawProfile({id: 'd', left: 1842.3, right: 2479.6, top: 52.3, bottom: 407, yMax: 0.2, yMinor: 0.01, yMajorStep: 0.1, gridY: gridYD, tickY: yTicksD, tickText: yTickTextD, labelShift: [7, 9, 6], minorX: 8, majorX: 14, fs: 28, xTickY: 445, xTitleY: 479, yTitleX: 1776, yTitleY: 229, xs: xD, black: blackD, red: redD, green: greenD, note: '139,3 nm', noteX: 2233, noteY: 104, noteFs: 32, noteLen: 117});
drawProfile({id: 'e', left: 1846.4, right: 2483, top: 518.7, bottom: 870.7, yMax: 0.06, yMinor: 0.002, yMajorStep: 0.01, gridY: gridYEF, tickY: yTicksEF, tickText: yTickTextEF, labelShift: [5, 7, 7, 6], minorX: 8, majorX: 15, fs: 27, xTickY: 907, xTitleY: 935, yTitleX: 1760, yTitleY: 693, xs: xE, black: blackE, red: redE, green: greenE, note: '54,9 nm', noteX: 2119, noteY: 570, noteFs: 28, noteLen: 103});
drawProfile({id: 'f', left: 1839.3, right: 2479, top: 1022, bottom: 1374, yMax: 0.06, yMinor: 0.002, yMajorStep: 0.01, gridY: gridYEF, tickY: yTicksEF, tickText: yTickTextEF, labelShift: [6, 7, 7, 10], minorX: 8, majorX: 15, fs: 27, xTickY: 1414, xTitleY: 1441, yTitleX: 1759, yTitleY: 1194, xs: xF, black: blackF, red: redF, green: greenF, note: '40,5 nm', noteX: 2069, noteY: 1066, noteFs: 28, noteLen: 104});
</script>
</svg>
</body>
</html>
